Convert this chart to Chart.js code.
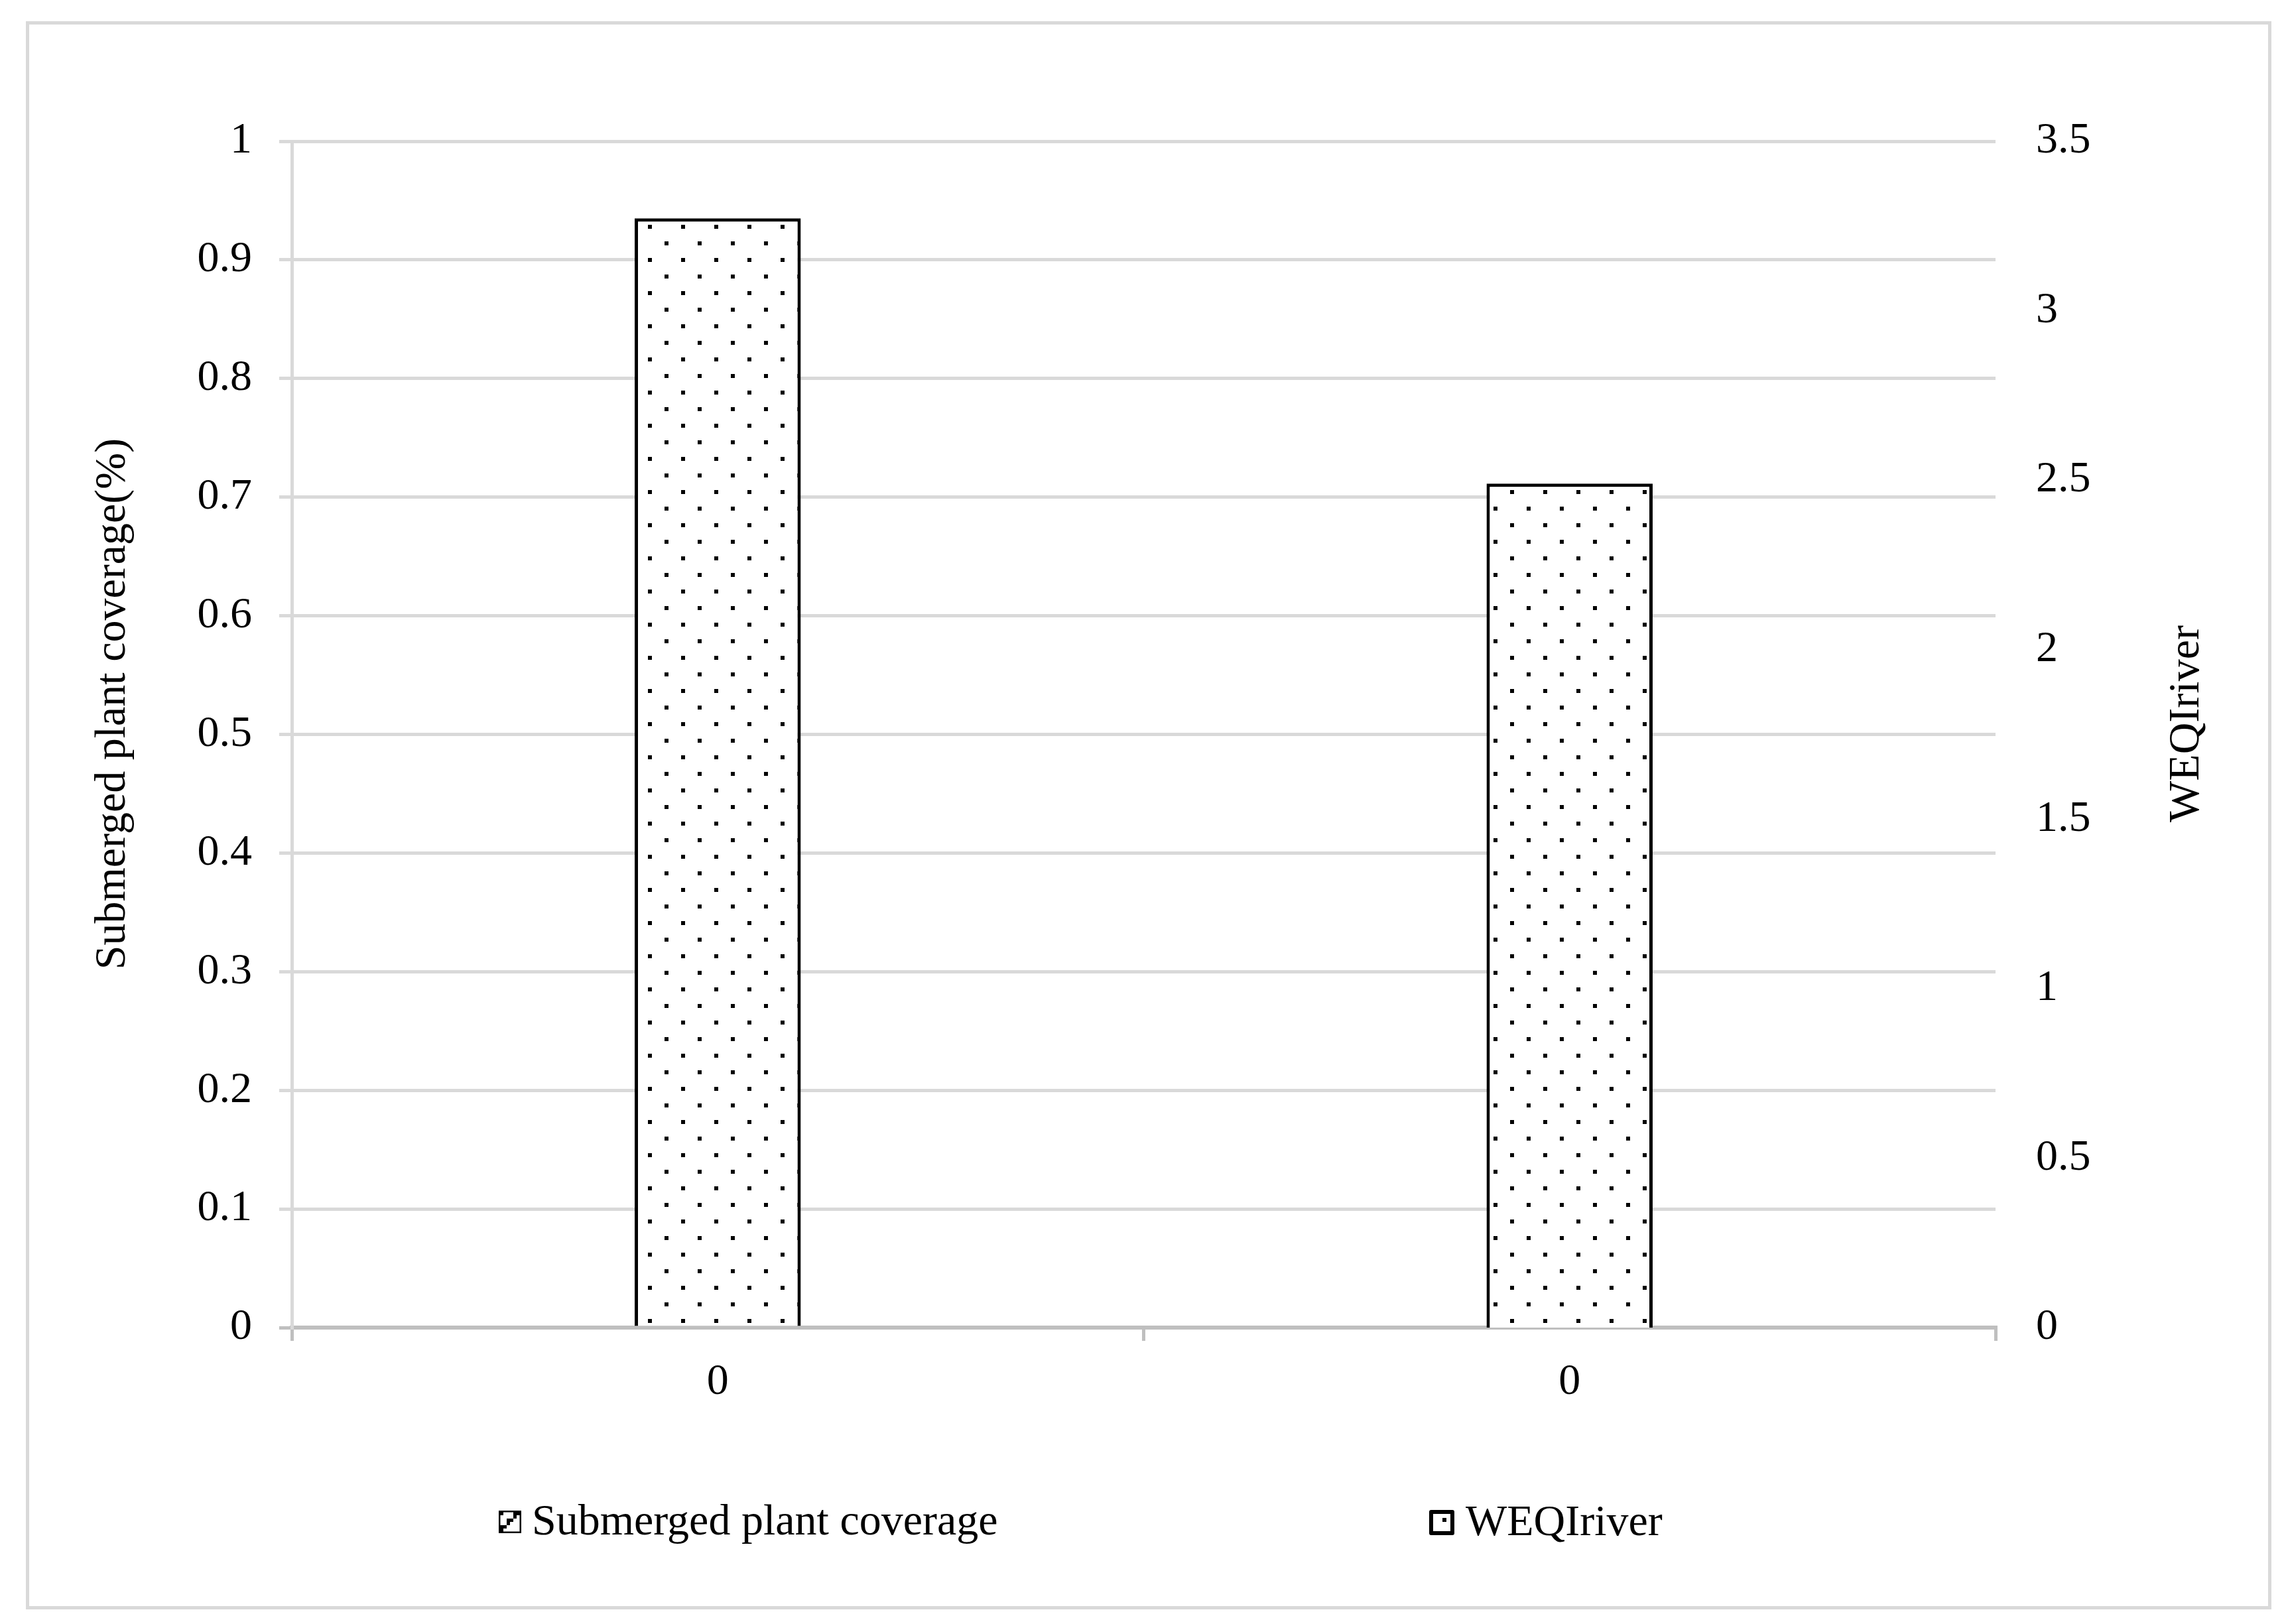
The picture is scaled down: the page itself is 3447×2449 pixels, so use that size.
<!DOCTYPE html>
<html>
<head>
<meta charset="utf-8">
<script src="https://cdn.jsdelivr.net/npm/chart.js@4/dist/chart.umd.min.js"></script>
<style>
  body { margin: 0; background: #fff; }
  #frame { position: absolute; left: 39px; top: 32px; width: 3386px; height: 2395px; border: 5px solid #d9d9d9; box-sizing: border-box; }
  #chart { position: absolute; left: 0; top: 0; }
</style>
</head>
<body>
<div id="frame"></div>
<canvas id="chart" width="3447" height="2449"></canvas>
<script>
// data
const categories = ['0', '0'];
const coverage = [0.935, null];
const weqi = [null, 2.49];
const leftTicks = ['0', '0.1', '0.2', '0.3', '0.4', '0.5', '0.6', '0.7', '0.8', '0.9', '1'];
const rightTicks = ['0', '0.5', '1', '1.5', '2', '2.5', '3', '3.5'];
const leftTitle = 'Submerged plant coverage(%)';
const rightTitle = 'WEQIriver';

const FONT = '"Liberation Serif", "Times New Roman", serif';
Chart.defaults.font.family = FONT;
Chart.defaults.font.size = 66;
Chart.defaults.color = '#000';

// dotted fill like the excel pattern
const makeDots = () => {
  const t = document.createElement('canvas');
  t.width = 50; t.height = 50;
  const c = t.getContext('2d');
  c.fillStyle = '#fff';
  c.fillRect(0, 0, 50, 50);
  c.fillStyle = '#000';
  c.fillRect(27, 39, 6, 6);
  c.fillRect(2, 14, 6, 6);
  return document.getElementById('chart').getContext('2d').createPattern(t, 'repeat');
};
const dots = makeDots();

const drawIconDiag = (ctx, x, y) => {
  ctx.fillStyle = '#fff';
  ctx.fillRect(x, y, 34, 34);
  ctx.fillStyle = '#000';
  const s = 5;
  for (let r = 0; r < 6; r++) {
    for (let c = 0; c < 6; c++) {
      if (r + c === 5 || (r + c === 4 && r % 2 === 0) || (r === 0 && c === 0)) {
        ctx.fillRect(x + 2 + c * s, y + 2 + r * s, s, s);
      }
    }
  }
  ctx.strokeStyle = '#000';
  ctx.lineWidth = 2.5;
  ctx.strokeRect(x + 1.25, y + 1.25, 31.5, 31.5);
};

const drawIconDot = (ctx, x, y) => {
  ctx.fillStyle = '#fff';
  ctx.fillRect(x, y, 38, 38);
  ctx.strokeStyle = '#000';
  ctx.lineWidth = 6;
  ctx.lineJoin = 'round';
  ctx.strokeRect(x + 3, y + 3, 32, 32);
  ctx.fillStyle = '#000';
  ctx.fillRect(x + 20, y + 12, 6, 6);
};

const drawUpText = (ctx, text, x, y) => {
  ctx.save();
  ctx.translate(x, y);
  ctx.rotate(-Math.PI / 2);
  ctx.textAlign = 'center';
  ctx.textBaseline = 'middle';
  ctx.fillText(text, 0, 0);
  ctx.restore();
};

// legend at the bottom and both axis titles (read upward like excel)
const extras = {
  id: 'extras',
  afterDraw(chart) {
    const { ctx, chartArea: a } = chart;
    const sets = chart.data.datasets;
    const mid = (a.top + a.bottom) / 2;
    ctx.save();
    ctx.font = '66px ' + FONT;
    ctx.fillStyle = '#000';
    ctx.textBaseline = 'alphabetic';
    ctx.textAlign = 'left';
    drawIconDiag(ctx, a.left + 312, a.bottom + 276);
    ctx.fillStyle = '#000';
    ctx.fillText(sets[0].label, a.left + 362, a.bottom + 312);
    drawIconDot(ctx, a.left + 1715, a.bottom + 275);
    ctx.fillStyle = '#000';
    ctx.fillText(sets[1].label, a.left + 1770, a.bottom + 313);

    drawUpText(ctx, leftTitle, a.left - 269, mid - 46);
    drawUpText(ctx, rightTitle, a.right + 289, mid - 16);
    ctx.restore();
  }
};

new Chart(document.getElementById('chart'), {
  type: 'bar',
  data: {
    labels: categories,
    datasets: [
      {
        label: 'Submerged plant coverage',
        data: coverage,
        yAxisID: 'y',
        backgroundColor: dots,
        borderColor: '#000',
        borderWidth: 5,
        grouped: false,
        barPercentage: 0.195,
        categoryPercentage: 1
      },
      {
        label: 'WEQIriver',
        data: weqi,
        yAxisID: 'y1',
        backgroundColor: dots,
        borderColor: '#000',
        borderWidth: 5,
        grouped: false,
        barPercentage: 0.195,
        categoryPercentage: 1
      }
    ]
  },
  options: {
    responsive: false,
    animation: false,
    layout: { padding: { left: 131, top: 213, right: 0, bottom: 0 } },
    plugins: { legend: { display: false }, tooltip: { enabled: false } },
    scales: {
      x: {
        afterFit: (s) => { s.height = 447; },
        grid: { drawOnChartArea: false, drawTicks: true, tickLength: 20, color: '#bfbfbf', lineWidth: 5, offset: true },
        border: { display: true, color: '#bfbfbf', width: 6 },
        ticks: { padding: 23, maxRotation: 0 }
      },
      y: {
        position: 'left',
        min: 0,
        max: 1,
        afterFit: (s) => { s.width = 309; },
        ticks: { stepSize: 0.1, padding: 41, callback: (v, i) => leftTicks[i] },
        grid: { color: (c) => (c.tick && c.tick.value === 0 ? '#bfbfbf' : '#d9d9d9'), lineWidth: 5, tickLength: 19 },
        border: { display: true, color: '#d9d9d9', width: 5 },
        title: { display: false }
      },
      y1: {
        position: 'right',
        min: 0,
        max: 3.5,
        afterFit: (s) => { s.width = 438; },
        ticks: { stepSize: 0.5, padding: 61, callback: (v, i) => rightTicks[i] },
        grid: { display: false, drawTicks: false },
        border: { display: false }
      }
    }
  },
  plugins: [extras]
});
</script>
</body>
</html>
